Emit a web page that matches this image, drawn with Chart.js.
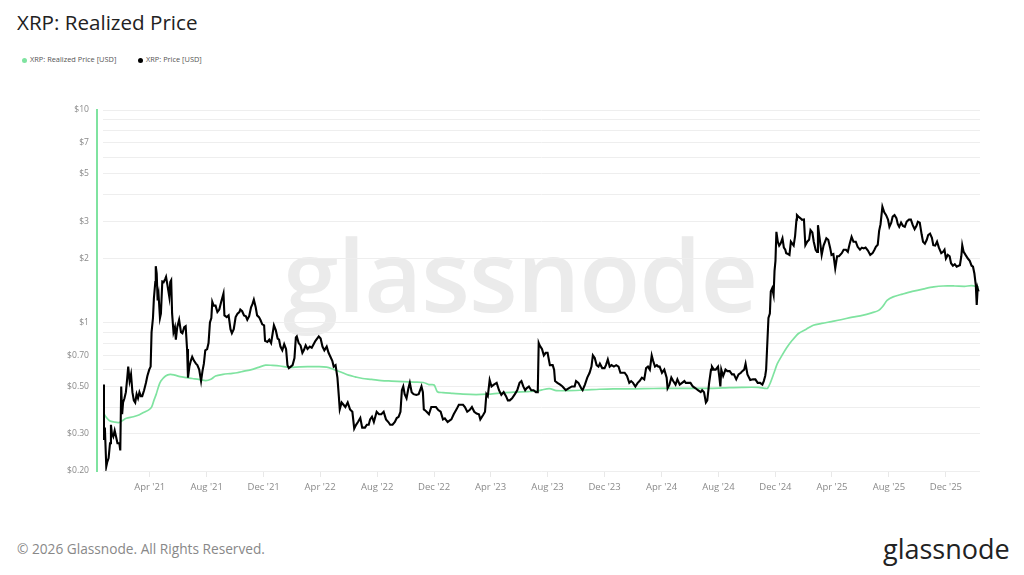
<!DOCTYPE html>
<html><head><meta charset="utf-8">
<script src="https://cdn.jsdelivr.net/npm/chart.js@4.4.1/dist/chart.umd.min.js"></script>
<style>
html,body{margin:0;padding:0;background:#fff;width:1024px;height:575px;overflow:hidden;font-family:"Open Sans",sans-serif;}
#title{position:absolute;left:17px;top:8px;font-size:20.6px;color:#222;white-space:nowrap}
.leg{position:absolute;top:54px;font-size:7.4px;color:#555;white-space:nowrap}
.dot{display:inline-block;width:5px;height:5px;border-radius:50%;margin-right:3px;vertical-align:-0.5px}
#wm{position:absolute;left:283px;top:205px;font-size:100px;font-weight:600;color:#ebebeb;white-space:nowrap;letter-spacing:-1px;z-index:0}
#foot{position:absolute;left:17px;top:539px;font-size:13.7px;color:#888;white-space:nowrap}
#logo{position:absolute;left:883px;top:530px;font-size:27px;font-weight:500;color:#222;white-space:nowrap}
#c{position:absolute;left:0;top:0;z-index:1}
</style></head>
<body>
<div id="title">XRP: Realized Price</div>
<div class="leg" style="left:22px"><span class="dot" style="background:#7fe3a0"></span>XRP: Realized Price [USD]</div>
<div class="leg" style="left:138px"><span class="dot" style="background:#000"></span>XRP: Price [USD]</div>
<div id="wm">glassnode</div>
<canvas id="c" width="1024" height="575"></canvas>
<div id="foot">© 2026 Glassnode. All Rights Reserved.</div>
<div id="logo">glassnode</div>
<script>
// ---------- DATA ----------
const priceDates = [
"2020-12-22","2020-12-24","2020-12-26","2020-12-29","2020-12-31",
"2021-01-03","2021-01-06","2021-01-08","2021-01-10","2021-01-13","2021-01-16","2021-01-19","2021-01-22","2021-01-26","2021-01-28","2021-01-30",
"2021-02-01","2021-02-03","2021-02-06","2021-02-09","2021-02-12","2021-02-14","2021-02-17","2021-02-20","2021-02-23","2021-02-26",
"2021-03-01","2021-03-04","2021-03-07","2021-03-10","2021-03-13","2021-03-16","2021-03-20","2021-03-24","2021-03-27","2021-03-31",
"2021-04-03","2021-04-05","2021-04-08","2021-04-10","2021-04-13","2021-04-14","2021-04-16","2021-04-18","2021-04-20","2021-04-23","2021-04-25","2021-04-28",
"2021-05-01","2021-05-04","2021-05-06","2021-05-09","2021-05-13","2021-05-15","2021-05-17","2021-05-19","2021-05-22","2021-05-25","2021-05-27","2021-05-30",
"2021-06-03","2021-06-07","2021-06-10","2021-06-14","2021-06-17","2021-06-20","2021-06-22","2021-06-25","2021-06-28",
"2021-07-01","2021-07-05","2021-07-09","2021-07-12","2021-07-16","2021-07-20","2021-07-23","2021-07-26","2021-07-29",
"2021-08-02","2021-08-05","2021-08-08","2021-08-11","2021-08-13","2021-08-16","2021-08-20","2021-08-24","2021-08-28",
"2021-09-01","2021-09-06","2021-09-08","2021-09-13","2021-09-17","2021-09-21","2021-09-24","2021-09-28",
"2021-10-02","2021-10-06","2021-10-10","2021-10-12","2021-10-16","2021-10-20","2021-10-24","2021-10-27","2021-10-31",
"2021-11-04","2021-11-07","2021-11-10","2021-11-14","2021-11-17","2021-11-21","2021-11-24","2021-11-28",
"2021-12-02","2021-12-04","2021-12-09","2021-12-13","2021-12-17","2021-12-20","2021-12-23","2021-12-27","2021-12-31",
"2022-01-03","2022-01-06","2022-01-10","2022-01-14","2022-01-18","2022-01-21","2022-01-24","2022-01-28",
"2022-02-01","2022-02-05","2022-02-08","2022-02-10","2022-02-14","2022-02-18","2022-02-22","2022-02-25",
"2022-03-01","2022-03-05","2022-03-10","2022-03-14","2022-03-18","2022-03-22","2022-03-29",
"2022-04-02","2022-04-06","2022-04-10","2022-04-15","2022-04-19","2022-04-23","2022-04-27","2022-04-30",
"2022-05-04","2022-05-08","2022-05-11","2022-05-13","2022-05-17","2022-05-21","2022-05-25","2022-05-30",
"2022-06-04","2022-06-09","2022-06-13","2022-06-17","2022-06-21","2022-06-26","2022-06-30",
"2022-07-06","2022-07-10","2022-07-14","2022-07-17","2022-07-21","2022-07-25","2022-07-31",
"2022-08-05","2022-08-10","2022-08-15","2022-08-20","2022-08-25","2022-08-29",
"2022-09-03","2022-09-08","2022-09-12","2022-09-16","2022-09-20","2022-09-23","2022-09-26","2022-09-29",
"2022-10-03","2022-10-07","2022-10-10","2022-10-14","2022-10-18","2022-10-24","2022-10-29",
"2022-11-04","2022-11-07","2022-11-09","2022-11-11","2022-11-15","2022-11-20","2022-11-25","2022-11-30",
"2022-12-05","2022-12-10","2022-12-15","2022-12-20","2022-12-24","2022-12-30",
"2023-01-03","2023-01-07","2023-01-12","2023-01-18","2023-01-23","2023-01-28",
"2023-02-01","2023-02-05","2023-02-10","2023-02-15","2023-02-20","2023-02-25",
"2023-03-02","2023-03-07","2023-03-10","2023-03-16","2023-03-20","2023-03-23","2023-03-26","2023-03-30",
"2023-04-03","2023-04-08","2023-04-14","2023-04-19","2023-04-24","2023-04-29",
"2023-05-04","2023-05-08","2023-05-12","2023-05-17","2023-05-23","2023-05-28",
"2023-06-02","2023-06-06","2023-06-10","2023-06-14","2023-06-17","2023-06-22","2023-06-27",
"2023-07-02","2023-07-07","2023-07-11","2023-07-13","2023-07-15","2023-07-20","2023-07-24","2023-07-28",
"2023-08-01","2023-08-06","2023-08-12","2023-08-15","2023-08-17","2023-08-22","2023-08-28",
"2023-09-02","2023-09-09","2023-09-15","2023-09-22","2023-09-28",
"2023-10-01","2023-10-06","2023-10-12","2023-10-15","2023-10-20","2023-10-25","2023-10-30",
"2023-11-03","2023-11-06","2023-11-10","2023-11-14","2023-11-18","2023-11-21","2023-11-26",
"2023-12-01","2023-12-04","2023-12-08","2023-12-12","2023-12-16","2023-12-21","2023-12-26","2023-12-31",
"2024-01-04","2024-01-09","2024-01-13","2024-01-18","2024-01-23","2024-01-27","2024-01-31",
"2024-02-05","2024-02-10","2024-02-14","2024-02-19","2024-02-24","2024-02-28",
"2024-03-03","2024-03-07","2024-03-11","2024-03-14","2024-03-18","2024-03-22","2024-03-25","2024-03-28",
"2024-04-02","2024-04-07","2024-04-12","2024-04-14","2024-04-18","2024-04-22","2024-04-26",
"2024-05-01","2024-05-05","2024-05-10","2024-05-15","2024-05-20","2024-05-23","2024-05-28",
"2024-06-02","2024-06-07","2024-06-13","2024-06-18","2024-06-24","2024-06-27",
"2024-07-01","2024-07-05","2024-07-08","2024-07-12","2024-07-16","2024-07-18","2024-07-22","2024-07-26","2024-07-31",
"2024-08-03","2024-08-05","2024-08-07","2024-08-11","2024-08-16","2024-08-20","2024-08-25","2024-08-30",
"2024-09-03","2024-09-08","2024-09-13","2024-09-18","2024-09-21","2024-09-25","2024-09-28",
"2024-10-02","2024-10-08","2024-10-14","2024-10-19","2024-10-24","2024-10-29",
"2024-11-03","2024-11-06","2024-11-09","2024-11-11","2024-11-13","2024-11-16","2024-11-19","2024-11-21","2024-11-24","2024-11-27","2024-11-29",
"2024-12-01","2024-12-03","2024-12-06","2024-12-09","2024-12-12","2024-12-16","2024-12-19","2024-12-22","2024-12-24","2024-12-28","2024-12-31",
"2025-01-03","2025-01-06","2025-01-09","2025-01-12","2025-01-15","2025-01-16","2025-01-19","2025-01-23","2025-01-27","2025-01-31",
"2025-02-03","2025-02-07","2025-02-11","2025-02-14","2025-02-18","2025-02-21","2025-02-25","2025-02-28",
"2025-03-02","2025-03-05","2025-03-10","2025-03-14","2025-03-20","2025-03-24","2025-03-28","2025-03-31",
"2025-04-04","2025-04-08","2025-04-12","2025-04-16","2025-04-22","2025-04-26",
"2025-05-01","2025-05-05","2025-05-09","2025-05-13","2025-05-17","2025-05-22","2025-05-26","2025-05-31",
"2025-06-04","2025-06-08","2025-06-12","2025-06-17","2025-06-22","2025-06-27",
"2025-07-01","2025-07-04","2025-07-08","2025-07-11","2025-07-14","2025-07-18","2025-07-22","2025-07-26","2025-07-30",
"2025-08-02","2025-08-06","2025-08-09","2025-08-13","2025-08-17","2025-08-20","2025-08-23","2025-08-27","2025-08-31",
"2025-09-04","2025-09-08","2025-09-13","2025-09-17","2025-09-21","2025-09-25","2025-09-29",
"2025-10-02","2025-10-06","2025-10-10","2025-10-13","2025-10-17","2025-10-21","2025-10-24","2025-10-28",
"2025-11-01","2025-11-04","2025-11-08","2025-11-12","2025-11-16","2025-11-21","2025-11-25","2025-11-28",
"2025-12-01","2025-12-05","2025-12-09","2025-12-12","2025-12-16","2025-12-20","2025-12-24","2025-12-28","2025-12-31",
"2026-01-03","2026-01-05","2026-01-08","2026-01-12","2026-01-17","2026-01-21","2026-01-25","2026-01-28","2026-01-31",
"2026-02-03","2026-02-05","2026-02-07","2026-02-09"
];
const priceValues = [
0.51,0.28,0.32,0.21,0.22,
0.23,0.27,0.33,0.30,0.29,0.31,0.29,0.27,0.27,0.25,0.50,
0.37,0.42,0.44,0.47,0.55,0.62,0.53,0.57,0.47,0.43,
0.42,0.46,0.44,0.47,0.45,0.45,0.48,0.52,0.56,0.60,
0.62,0.90,1.05,1.30,1.55,1.84,1.70,1.27,1.35,1.05,1.10,1.56,
1.55,1.60,1.64,1.50,1.32,1.55,1.58,1.10,0.90,0.95,0.83,0.95,
1.03,0.90,0.89,0.95,0.96,0.75,0.55,0.62,0.66,
0.69,0.66,0.64,0.63,0.60,0.53,0.59,0.64,0.74,
0.75,0.80,1.00,1.05,1.25,1.20,1.20,1.12,1.15,
1.25,1.37,1.08,1.06,1.08,0.93,0.89,0.93,
1.06,1.10,1.12,1.15,1.13,1.08,1.07,1.03,1.07,
1.18,1.22,1.28,1.18,1.08,1.06,1.03,0.98,
0.97,0.82,0.81,0.83,0.80,0.88,0.97,0.92,0.84,
0.83,0.77,0.74,0.79,0.75,0.63,0.61,0.62,
0.63,0.68,0.85,0.86,0.80,0.78,0.72,0.74,
0.78,0.75,0.77,0.76,0.79,0.82,0.86,
0.84,0.77,0.74,0.77,0.72,0.69,0.66,0.62,
0.63,0.55,0.45,0.39,0.42,0.41,0.40,0.42,
0.39,0.38,0.317,0.33,0.34,0.355,0.32,
0.32,0.33,0.33,0.35,0.36,0.34,0.38,
0.37,0.37,0.38,0.35,0.34,0.33,
0.33,0.34,0.355,0.36,0.38,0.48,0.50,0.46,
0.44,0.49,0.52,0.47,0.46,0.456,0.46,
0.50,0.47,0.39,0.387,0.38,0.37,0.40,0.40,
0.40,0.387,0.38,0.35,0.354,0.34,
0.345,0.35,0.37,0.39,0.41,0.41,
0.41,0.40,0.38,0.387,0.40,0.38,
0.373,0.37,0.35,0.367,0.38,0.46,0.45,0.536,
0.50,0.51,0.52,0.48,0.456,0.47,
0.45,0.43,0.43,0.44,0.46,0.48,
0.52,0.53,0.50,0.48,0.49,0.50,0.48,
0.48,0.47,0.47,0.80,0.78,0.75,0.70,0.72,
0.72,0.63,0.63,0.60,0.53,0.52,0.51,
0.50,0.48,0.49,0.50,0.50,
0.53,0.52,0.49,0.48,0.51,0.55,0.58,
0.62,0.70,0.68,0.63,0.62,0.64,0.61,
0.61,0.63,0.67,0.62,0.63,0.62,0.63,0.62,
0.58,0.58,0.58,0.56,0.52,0.53,0.52,
0.50,0.52,0.53,0.55,0.54,0.61,
0.62,0.60,0.70,0.66,0.62,0.63,0.62,0.62,
0.58,0.60,0.55,0.49,0.51,0.55,0.53,
0.51,0.54,0.51,0.52,0.53,0.52,0.52,
0.52,0.50,0.49,0.48,0.47,0.48,
0.47,0.42,0.43,0.52,0.60,0.62,0.60,0.60,0.62,
0.55,0.50,0.60,0.56,0.60,0.59,0.59,0.57,
0.57,0.54,0.57,0.58,0.59,0.60,0.64,
0.57,0.536,0.54,0.54,0.52,0.52,
0.51,0.53,0.56,0.60,0.75,1.05,1.10,1.40,1.45,1.35,1.75,
1.95,2.67,2.40,2.30,2.35,2.49,2.25,2.20,2.12,2.10,2.08,
2.40,2.35,2.30,2.55,3.05,3.20,3.15,3.10,3.04,3.05,
2.31,2.40,2.45,2.72,2.65,2.40,2.20,2.15,
2.87,2.55,2.08,2.30,2.49,2.45,2.25,2.08,
2.10,1.80,2.05,2.05,2.12,2.20,
2.20,2.15,2.35,2.53,2.40,2.40,2.27,2.20,
2.25,2.23,2.25,2.18,2.08,2.12,
2.20,2.27,2.32,2.70,2.90,3.51,3.30,3.20,3.05,
2.82,2.95,3.15,3.20,3.10,2.90,2.82,2.95,2.85,
2.82,2.98,3.05,3.05,2.87,2.75,2.85,
2.98,2.95,2.60,2.40,2.35,2.45,2.58,2.62,
2.50,2.31,2.30,2.40,2.25,2.12,2.15,2.20,
2.00,2.08,2.05,1.90,1.85,1.88,1.83,1.85,1.86,
2.05,2.31,2.15,2.08,2.00,1.95,1.85,1.83,1.70,
1.50,1.21,1.45,1.40
];
const realizedDates = [
"2020-12-22","2020-12-28","2021-01-05","2021-01-15","2021-01-25","2021-02-01","2021-02-10","2021-02-25","2021-03-10","2021-03-20",
"2021-03-30","2021-04-05","2021-04-10","2021-04-15","2021-04-20","2021-04-25","2021-05-05","2021-05-15","2021-05-25","2021-06-05",
"2021-06-20","2021-07-01","2021-07-15","2021-07-30","2021-08-10","2021-08-20","2021-09-05","2021-09-20","2021-10-05","2021-10-20",
"2021-11-05","2021-11-20","2021-12-05","2021-12-20","2022-01-05","2022-01-25","2022-02-15","2022-03-05","2022-03-25","2022-04-15",
"2022-05-01","2022-05-15","2022-06-01","2022-06-15","2022-07-01","2022-07-20","2022-08-10","2022-09-01","2022-09-25","2022-10-20",
"2022-11-08","2022-11-20","2022-12-01","2022-12-08","2022-12-20","2023-01-10","2023-02-01","2023-03-01","2023-03-25","2023-04-20",
"2023-05-20","2023-06-20","2023-07-10","2023-07-20","2023-08-05","2023-08-20","2023-09-15","2023-10-20","2023-11-20","2023-12-20",
"2024-02-01","2024-03-15","2024-04-20","2024-06-01","2024-07-10","2024-08-10","2024-09-20","2024-10-25","2024-11-08","2024-11-14",
"2024-11-20","2024-11-28","2024-12-05","2024-12-15","2024-12-25","2025-01-05","2025-01-20","2025-02-05","2025-02-20","2025-03-10",
"2025-03-31","2025-04-20","2025-05-15","2025-06-05","2025-06-25","2025-07-10","2025-07-20","2025-07-28","2025-08-10","2025-08-30",
"2025-09-20","2025-10-15","2025-11-05","2025-11-25","2025-12-20","2026-01-10","2026-01-25","2026-02-09"
];
const realizedValues = [
0.378,0.36,0.345,0.34,0.338,0.345,0.354,0.36,0.368,0.378,
0.388,0.40,0.43,0.46,0.50,0.53,0.56,0.57,0.565,0.556,
0.55,0.545,0.54,0.532,0.54,0.56,0.57,0.575,0.58,0.59,
0.60,0.615,0.63,0.628,0.624,0.615,0.618,0.62,0.62,0.617,
0.60,0.585,0.565,0.555,0.545,0.54,0.533,0.53,0.527,0.524,
0.522,0.51,0.508,0.472,0.468,0.464,0.46,0.458,0.46,0.465,
0.47,0.473,0.476,0.482,0.488,0.478,0.478,0.481,0.485,0.487,
0.487,0.489,0.49,0.49,0.49,0.492,0.495,0.495,0.49,0.49,
0.52,0.58,0.64,0.70,0.76,0.82,0.89,0.93,0.97,0.99,
1.01,1.03,1.06,1.08,1.11,1.14,1.20,1.27,1.32,1.36,
1.40,1.44,1.47,1.485,1.485,1.48,1.49,1.47
];
const xTickDates = ["2021-04-01","2021-08-01","2021-12-01","2022-04-01","2022-08-01","2022-12-01","2023-04-01","2023-08-01","2023-12-01","2024-04-01","2024-08-01","2024-12-01","2025-04-01","2025-08-01","2025-12-01"];
const xTickLabels = ["Apr '21","Aug '21","Dec '21","Apr '22","Aug '22","Dec '22","Apr '23","Aug '23","Dec '23","Apr '24","Aug '24","Dec '24","Apr '25","Aug '25","Dec '25"];
const yGridValues = [0.2,0.3,0.4,0.5,0.6,0.7,0.8,0.9,1,2,3,4,5,6,7,8,9,10];
const yLabelValues = [0.2,0.3,0.5,0.7,1,2,3,5,7,10];
const yLabelTexts = ["$0.20","$0.30","$0.50","$0.70","$1","$2","$3","$5","$7","$10"];
const xRange = ["2020-12-22","2026-02-12"];

// ---------- BUILD ----------
const day = s => Date.UTC(+s.slice(0,4), +s.slice(5,7)-1, +s.slice(8,10)) / 86400000;
if (priceDates.length !== priceValues.length) console.error('price length mismatch', priceDates.length, priceValues.length);
if (realizedDates.length !== realizedValues.length) console.error('realized length mismatch', realizedDates.length, realizedValues.length);
const pricePts = priceDates.map((d,i) => ({x: day(d), y: priceValues[i]}));
const realizedPts = realizedDates.map((d,i) => ({x: day(d), y: realizedValues[i]}));
const GREEN = '#7fe3a0';

const axisLine = {
  id: 'axisLine',
  afterDraw(c) {
    const a = c.chartArea, g = c.ctx;
    g.save(); g.strokeStyle = GREEN; g.lineWidth = 2;
    g.beginPath(); g.moveTo(a.left - 6, a.top - 1); g.lineTo(a.left - 6, a.bottom + 1); g.stroke();
    g.restore();
  }
};

new Chart(document.getElementById('c'), {
  type: 'line',
  data: { datasets: [
    { label: 'XRP: Price [USD]', data: pricePts, borderColor: '#000', borderWidth: 2.1, pointRadius: 0, tension: 0 },
    { label: 'XRP: Realized Price [USD]', data: realizedPts, borderColor: GREEN, borderWidth: 1.7, pointRadius: 0, tension: 0.3 }
  ]},
  options: {
    responsive: false, animation: false, devicePixelRatio: 1,
    layout: { padding: { left: 0, right: 44, top: 110, bottom: 74 } },
    plugins: { legend: { display: false }, tooltip: { enabled: false }, title: { display: false } },
    scales: {
      x: {
        type: 'linear', min: day(xRange[0]), max: day(xRange[1]),
        afterBuildTicks: s => { s.ticks = xTickDates.map(d => ({ value: day(d) })); },
        afterFit: s => { s.height = 30; },
        ticks: { callback: (v, i) => xTickLabels[i], color: '#8a8a8a', font: { family: 'Open Sans', size: 9.5 }, maxRotation: 0, autoSkip: false, padding: 5 },
        grid: { drawOnChartArea: false, color: '#e8e8e8', tickLength: 6 },
        border: { display: false }
      },
      y: {
        type: 'logarithmic', min: 0.2, max: 10,
        afterBuildTicks: s => { s.ticks = yGridValues.map(v => ({ value: v })); },
        afterFit: s => { s.width = 103; },
        ticks: {
          callback: v => { const k = yLabelValues.findIndex(t => Math.abs(t - v) < 1e-9); return k >= 0 ? yLabelTexts[k] : ''; },
          color: '#8a8a8a', font: { family: 'Open Sans', size: 8.6 }, padding: 14, autoSkip: false
        },
        grid: { color: '#eeeeee', drawTicks: false },
        border: { display: false }
      }
    }
  },
  plugins: [axisLine]
});
</script>
</body></html>
